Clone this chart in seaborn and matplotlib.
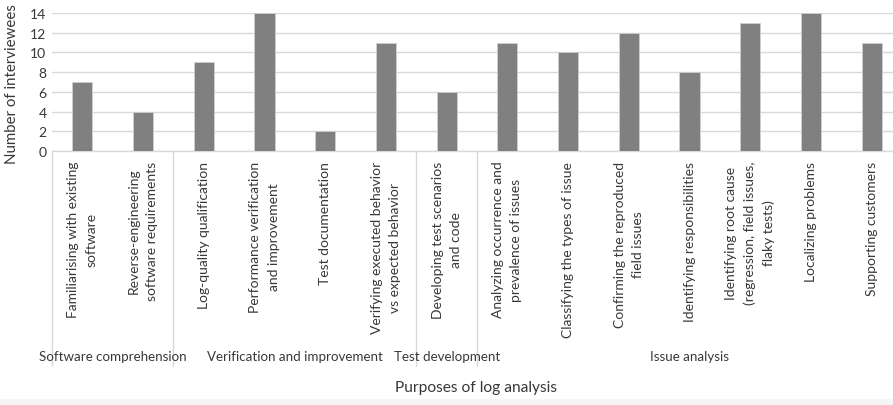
import matplotlib
matplotlib.use("Agg")
import matplotlib.pyplot as plt
import matplotlib.transforms as mtransforms
from matplotlib.patches import Rectangle
import pandas as pd
import seaborn as sns

# Purposes of log analysis, grouped by theme
purposes = [
    "Familiarising with existing\nsoftware",
    "Reverse-engineering\nsoftware requirements",
    "Log-quality qualification",
    "Performance verification\nand improvement",
    "Test documentation",
    "Verifying executed behavior\nvs expected behavior",
    "Developing test scenarios\nand code",
    "Analyzing occurrence and\nprevalence of issues",
    "Classifying the types of issue",
    "Confirming the reproduced\nfield issues",
    "Identifying responsibilities",
    "Identifying root cause\n(regression, field issues,\nflaky tests)",
    "Localizing problems",
    "Supporting customers",
]
interviewees = [7, 4, 9, 14, 2, 11, 6, 11, 10, 12, 8, 13, 14, 11]
group_names = ["Software comprehension", "Verification and improvement",
               "Test development", "Issue analysis"]
group_sizes = [2, 4, 1, 7]
y_ticks = [0, 2, 4, 6, 8, 10, 12, 14]

sns.set_theme(style="white")
plt.rcParams["font.family"] = ["Lato", "DejaVu Sans"]

TEXT = "#383838"
GRID = "#d9d9d9"

W, H = 893, 406
fig = plt.figure(figsize=(W / 100, H / 100), dpi=100)
fig.patch.set_facecolor("white")

# plot area in pixels (left, top, right, bottom)
L, T, R, B = 52, 14, 902, 152
ax = fig.add_axes([L / W, 1 - B / H, (R - L) / W, (B - T) / H])

df = pd.DataFrame({"purpose": purposes, "count": interviewees})
sns.barplot(data=df, x="purpose", y="count", order=purposes, color="#808080",
            saturation=1, width=0.33, edgecolor="#cfcfcf", linewidth=0.6,
            ax=ax, zorder=3)

ax.set_xlim(-0.5, len(purposes) - 0.5)
ax.set_ylim(0, 14)
ax.set_yticks(y_ticks)
ax.yaxis.grid(True, color=GRID, linewidth=1.0, zorder=0)
ax.set_axisbelow(True)
for s in ["top", "right", "left"]:
    ax.spines[s].set_visible(False)
ax.spines["bottom"].set_color(GRID)
ax.spines["bottom"].set_linewidth(1.0)
ax.tick_params(axis="both", length=0)
ax.tick_params(axis="y", pad=4, labelsize=9, labelcolor=TEXT)
ax.tick_params(axis="x", pad=7, labelsize=9, labelcolor=TEXT)
ax.set_xlabel("")
ax.set_ylabel("")
ax.set_xticks(range(len(purposes)))
ax.set_xticklabels(purposes, rotation=90, va="top", ha="center",
                   multialignment="center", fontsize=9, color=TEXT,
                   linespacing=1.62)

# group separators and group labels below the tick labels
trans = mtransforms.blended_transform_factory(ax.transData, ax.transAxes)
axis_h = B - T
sep_bottom = -(367 - B) / axis_h
label_y = -(357 - B) / axis_h
start = 0
edges = [-0.5]
group_texts = []
for name, size in zip(group_names, group_sizes):
    end = start + size
    edges.append(end - 0.5)
    t = ax.text((start + end - 1) / 2, label_y, name, transform=trans,
                ha="center", va="center", fontsize=9.5, color=TEXT,
                clip_on=False)
    group_texts.append(t)
    start = end
for e in edges:
    ax.plot([e, e], [0, sep_bottom], transform=trans, color=GRID,
            linewidth=1.0, clip_on=False, zorder=1)

ylab = fig.text(12 / W, 1 - 84 / H, "Number of interviewees", rotation=90,
                ha="center", va="center", fontsize=10, color=TEXT)
xlab = fig.text(476 / W, 1 - 388 / H, "Purposes of log analysis",
                ha="center", va="center", fontsize=10.5, color=TEXT)

# faint strip along the lower edge
fig.patches.append(Rectangle((0, 0), 1, 6 / H, transform=fig.transFigure,
                             facecolor="#f5f5f5", edgecolor="none", zorder=0))

# size the fonts so the text runs to its intended pixel lengths
renderer = fig.canvas.get_renderer()


def fit(texts, ref, length, vertical=False):
    ext = ref.get_window_extent(renderer)
    cur = ext.height if vertical else ext.width
    k = length / cur
    for t in texts:
        t.set_fontsize(t.get_fontsize() * k)


fit(group_texts, group_texts[1], 176)
fit(ax.get_xticklabels(), ax.get_xticklabels()[2], 148, vertical=True)
fit([ylab], ylab, 160, vertical=True)
fit([xlab], xlab, 164)
ysize = ax.get_xticklabels()[0].get_fontsize()
ax.tick_params(axis="y", labelsize=ysize)

fig.savefig("out.png", dpi=100)
